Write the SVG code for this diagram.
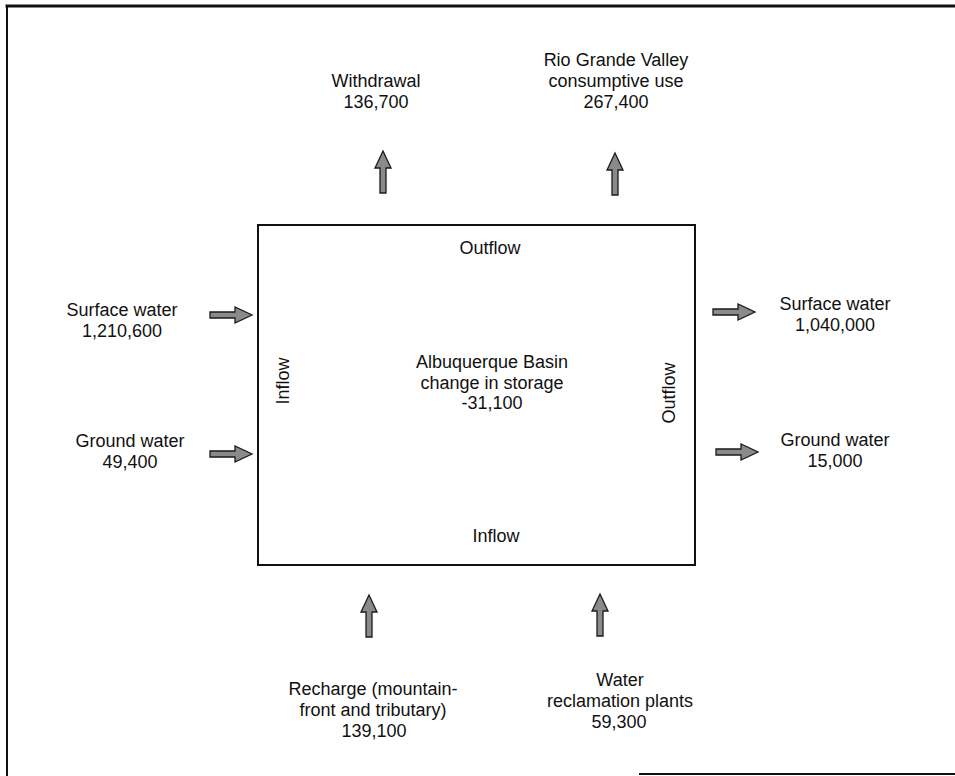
<svg xmlns="http://www.w3.org/2000/svg" width="955" height="776" viewBox="0 0 955 776">
<defs>
<style>
text{font-family:"Liberation Sans",Arial,Helvetica,sans-serif;font-size:18px;fill:#111;text-anchor:middle}
.frame{fill:none;stroke:#111;stroke-linecap:square}
.arr{fill:#8a8a8a;stroke:#1a1a1a;stroke-width:1.3;stroke-linejoin:miter}
</style>
<path id="arrow" d="M0,-3 L25,-3 L25,-8 L42,0 L25,8 L25,3 L0,3 Z"/>
</defs>
<rect width="955" height="776" fill="#fff"/>
<g id="page-frame">
<line class="frame" x1="7" y1="6" x2="955" y2="6" stroke-width="3"/>
<line class="frame" x1="7" y1="6" x2="7" y2="776" stroke-width="2"/>
<line class="frame" x1="640" y1="774" x2="955" y2="774" stroke-width="2"/>
</g>
<g id="basin">
<rect x="258" y="225" width="437" height="340" fill="none" stroke="#111" stroke-width="2"/>
<text x="492" y="368">Albuquerque Basin</text>
<text x="492" y="389">change in storage</text>
<text x="492" y="409">-31,100</text>
<text x="490" y="254">Outflow</text>
<text x="496" y="542">Inflow</text>
<text transform="translate(289,381) rotate(-90)">Inflow</text>
<text transform="translate(675,393) rotate(-90)">Outflow</text>
</g>
<g id="connectors">
<use href="#arrow" class="arr" transform="translate(383,193) rotate(-90)"/>
<use href="#arrow" class="arr" transform="translate(615,195) rotate(-90)"/>
<use href="#arrow" class="arr" transform="translate(369,637) rotate(-90)"/>
<use href="#arrow" class="arr" transform="translate(600,636) rotate(-90)"/>
<use href="#arrow" class="arr" transform="translate(210,315)"/>
<use href="#arrow" class="arr" transform="translate(210,454)"/>
<use href="#arrow" class="arr" transform="translate(713,312)"/>
<use href="#arrow" class="arr" transform="translate(716,452)"/>
</g>
<g id="withdrawal">
<text x="376" y="87">Withdrawal</text>
<text x="376" y="108">136,700</text>
</g>
<g id="rio-grande">
<text x="616" y="66">Rio Grande Valley</text>
<text x="616" y="87">consumptive use</text>
<text x="616" y="108">267,400</text>
</g>
<g id="surface-in">
<text x="122" y="316">Surface water</text>
<text x="122" y="337">1,210,600</text>
</g>
<g id="ground-in">
<text x="130" y="447">Ground water</text>
<text x="130" y="468">49,400</text>
</g>
<g id="surface-out">
<text x="835" y="310">Surface water</text>
<text x="835" y="331">1,040,000</text>
</g>
<g id="ground-out">
<text x="835" y="446">Ground water</text>
<text x="835" y="467">15,000</text>
</g>
<g id="recharge">
<text x="373" y="695">Recharge (mountain-</text>
<text x="373" y="716">front and tributary)</text>
<text x="374" y="737">139,100</text>
</g>
<g id="reclamation">
<text x="620" y="686">Water</text>
<text x="620" y="707">reclamation plants</text>
<text x="619" y="728">59,300</text>
</g>
</svg>
